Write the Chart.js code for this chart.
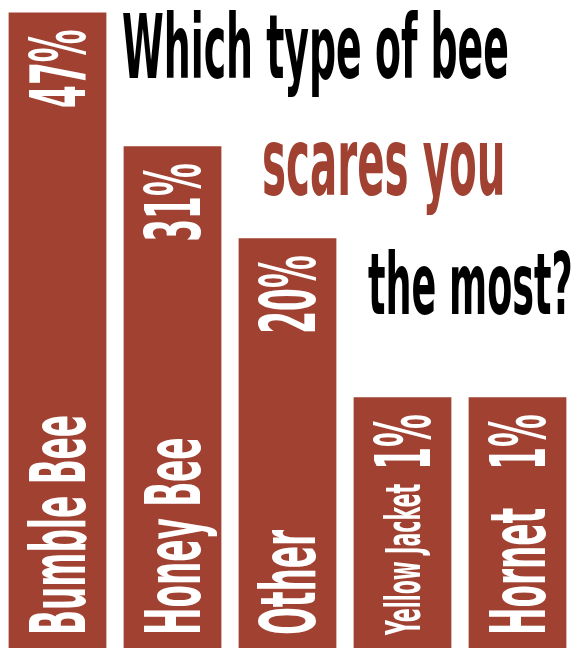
<!DOCTYPE html>
<html lang="en">
<head>
<meta charset="UTF-8" />
<title>Which type of bee scares you the most?</title>
<script src="https://cdn.jsdelivr.net/npm/chart.js"></script>
<style>
  html, body { margin: 0; padding: 0; background: #fff; }
  #wrap { width: 583px; height: 648px; }
</style>
</head>
<body>
<div id="wrap"><canvas id="beeChart"></canvas></div>
<script>
  const beeTypes = ['Bumble Bee', 'Honey Bee', 'Other', 'Yellow Jacket', 'Hornet'];
  const sharePct = [47, 31, 20, 1, 1];
  const titleLines = ['Which type of bee', 'scares you', 'the most?'];

  const RUST = '#a14131';
  const FONT = '"DejaVu Sans Condensed", "DejaVu Sans", sans-serif';
  const LABEL_SIZE = 77;   // cap height ~56px
  let squeeze = 0.5;       // horizontal condensing, calibrated below

  function setFont(ctx, size) {
    ctx.font = `bold ${size}px ${FONT}`;
  }

  // draw text condensed along its own direction
  function tallText(ctx, text, x, y, size, color, align, angle) {
    ctx.save();
    ctx.translate(x, y);
    ctx.rotate(angle || 0);
    ctx.scale(squeeze, 1);
    setFont(ctx, size);
    ctx.fillStyle = color;
    ctx.textAlign = align || 'left';
    ctx.textBaseline = 'alphabetic';
    ctx.fillText(text, 0, 0);
    ctx.restore();
  }

  function textLen(ctx, text, size) {
    ctx.save();
    setFont(ctx, size);
    const w = ctx.measureText(text).width * squeeze;
    ctx.restore();
    return w;
  }

  const beeLabels = {
    id: 'beeLabels',
    afterDatasetsDraw(chart) {
      const ctx = chart.ctx;
      // calibrate: "Bumble Bee" is about 220px long in the original
      setFont(ctx, LABEL_SIZE);
      squeeze = 220 / ctx.measureText(beeTypes[0]).width;

      const bars = chart.getDatasetMeta(0).data;
      bars.forEach((bar, i) => {
        const up = -Math.PI / 2;
        const valTxt = sharePct[i] + '%';
        const valTop = bar.y + 17;
        const valLen = textLen(ctx, valTxt, LABEL_SIZE);
        const capX = bar.x + LABEL_SIZE * 0.36;
        tallText(ctx, valTxt, capX, valTop, LABEL_SIZE, '#fff', 'right', up);

        const catBottom = bar.base - 13;
        const room = catBottom - (valTop + valLen + 14);
        let size = LABEL_SIZE;
        const full = textLen(ctx, beeTypes[i], size);
        if (full > room) size = size * room / full;
        tallText(ctx, beeTypes[i], bar.x + size * 0.36, catBottom, size, '#fff', 'left', up);
      });

      // stacked, indented title
      tallText(ctx, titleLines[0], 122, 78, 89, '#000');
      tallText(ctx, titleLines[1], 262, 195, 95, RUST);
      tallText(ctx, titleLines[2], 368, 314, 86, '#000');
    }
  };

  new Chart(document.getElementById('beeChart'), {
    type: 'bar',
    data: {
      labels: beeTypes,
      datasets: [{
        data: sharePct,
        backgroundColor: RUST,
        borderWidth: 0,
        base: -29,
        barPercentage: 0.85,
        categoryPercentage: 1
      }]
    },
    options: {
      responsive: true,
      maintainAspectRatio: false,
      animation: false,
      layout: { padding: { left: 0, right: 8, top: 0, bottom: 0 } },
      plugins: {
        legend: { display: false },
        tooltip: { enabled: false },
        title: { display: false }
      },
      scales: {
        x: { display: false },
        y: { display: false, min: -29, max: 48.5 }
      }
    },
    plugins: [beeLabels]
  });
</script>
</body>
</html>
